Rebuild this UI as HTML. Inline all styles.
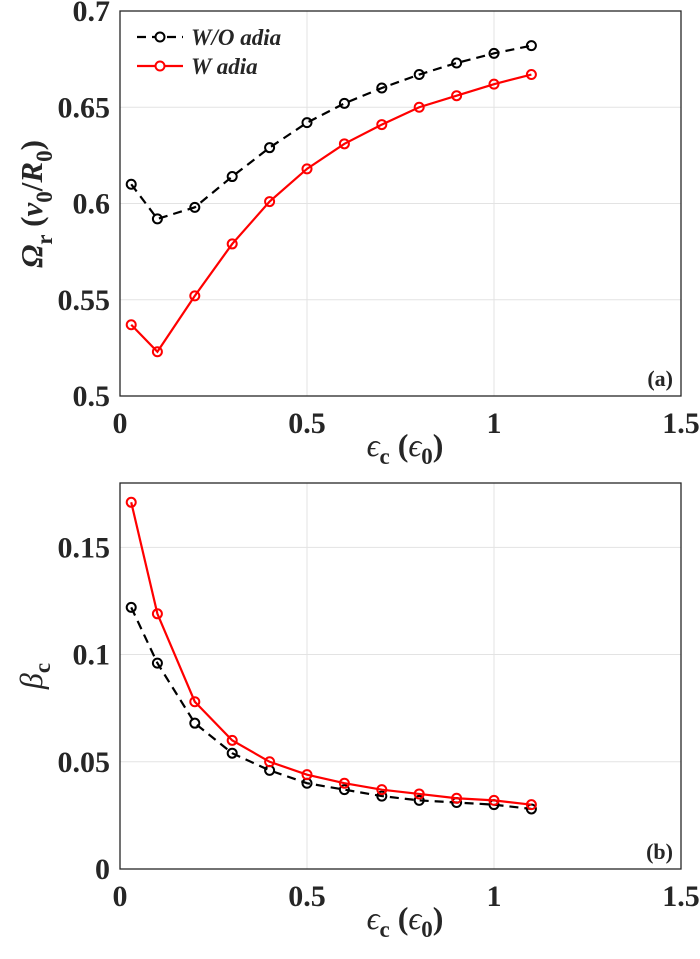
<!DOCTYPE html>
<html><head><meta charset="utf-8"><style>
body{margin:0;background:#fff;width:700px;height:954px;overflow:hidden}
svg text{font-family:"Liberation Serif",serif;font-weight:bold;fill:#262626}
</style></head><body>
<svg id="chart" width="700" height="954" viewBox="0 0 700 954" xmlns="http://www.w3.org/2000/svg"></svg>
<script>
const xVals=[0.03,0.1,0.2,0.3,0.4,0.5,0.6,0.7,0.8,0.9,1.0,1.1];
const omegaWO=[0.61,0.592,0.598,0.614,0.629,0.642,0.652,0.660,0.667,0.673,0.678,0.682];
const omegaW=[0.537,0.523,0.552,0.579,0.601,0.618,0.631,0.641,0.650,0.656,0.662,0.667];
const betaWO=[0.122,0.096,0.068,0.054,0.046,0.040,0.037,0.034,0.032,0.031,0.030,0.028];
const betaW=[0.171,0.119,0.078,0.060,0.050,0.044,0.040,0.037,0.035,0.033,0.032,0.030];
const xTicks=[0,0.5,1,1.5];
const xTickLabels=["0","0.5","1","1.5"];
const topYTicks=[0.5,0.55,0.6,0.65,0.7];
const topYTickLabels=["0.5","0.55","0.6","0.65","0.7"];
const botYTicks=[0,0.05,0.1,0.15];
const botYTickLabels=["0","0.05","0.1","0.15"];
const NS="http://www.w3.org/2000/svg";
const svg=document.getElementById('chart');
function el(tag,attrs,parent){const e=document.createElementNS(NS,tag);for(const k in attrs)e.setAttribute(k,attrs[k]);(parent||svg).appendChild(e);return e;}
function panel(name,top,bottom,yMin,yMax,yTicks,yLabels,wo,w,label){
  const L=120,R=681;
  const g=el('g',{});
  
  
  const sx=v=>L+(v-0)/(1.5)*(R-L);
  const sy=v=>bottom-(v-yMin)/(yMax-yMin)*(bottom-top);
  xTicks.forEach((t,i)=>{
    const gl=el('line',{x1:sx(t),x2:sx(t),y1:top,y2:bottom,stroke:'#e3e3e3','stroke-width':1},g);
    
    
    const tx=el('text',{x:sx(t),y:bottom+37,'text-anchor':'middle','font-size':30},g);
    
    
    tx.textContent=xTickLabels[i];
  });
  yTicks.forEach((t,i)=>{
    const gl=el('line',{x1:L,x2:R,y1:sy(t),y2:sy(t),stroke:'#e3e3e3','stroke-width':1},g);
    
    
    const tx=el('text',{x:L-10,y:sy(t)+10,'text-anchor':'end','font-size':30},g);
    
    
    tx.textContent=yLabels[i];
  });
  const box=el('rect',{x:L,y:top,width:R-L,height:bottom-top,fill:'none',stroke:'#262626','stroke-width':1.3},g);
  
  
  function series(vals,color,dash,sname){
    const pts=xVals.map((x,i)=>sx(x)+','+sy(vals[i])).join(' ');
    const pl=el('polyline',{points:pts,fill:'none',stroke:color,'stroke-width':2.2,'stroke-dasharray':dash},g);
    
    
    xVals.forEach((x,i)=>{
      const c=el('circle',{cx:sx(x),cy:sy(vals[i]),r:4.5,fill:'none',stroke:color,'stroke-width':2},g);
      
      
    });
  }
  series(wo,'#000','9 6','wo-adia');
  series(w,'#ff0000','none','w-adia');
  const lb=el('text',{x:R-8,y:bottom-10,'text-anchor':'end','font-size':22},g);
  
  
  lb.textContent=label;
  const xt=el('text',{x:405,y:bottom+60,'text-anchor':'middle','font-size':32},g);
  
  
  xt.innerHTML='<tspan font-style="italic" font-weight="normal">ϵ</tspan><tspan dy="8" font-size="23">c</tspan><tspan dy="-8"> (</tspan><tspan font-style="italic" font-weight="normal">ϵ</tspan><tspan dy="8" font-size="23">0</tspan><tspan dy="-8">)</tspan>';
  return {sx,sy,g};
}
const p1=panel('top-panel',11,396,0.5,0.7,topYTicks,topYTickLabels,omegaWO,omegaW,'(a)');
const p2=panel('bottom-panel',483,869,0,0.18,botYTicks,botYTickLabels,betaWO,betaW,'(b)');
const lg=el('g',{});


[['W/O adia','#000','9 6',37],['W adia','#ff0000','none',66]].forEach(([t,c,d,y])=>{
  const ln=el('line',{x1:137,x2:183,y1:y,y2:y,stroke:c,'stroke-width':2.2,'stroke-dasharray':d},lg);
  
  
  const ci=el('circle',{cx:160,cy:y,r:4.5,fill:'#fff',stroke:c,'stroke-width':2},lg);
  
  
  const tx=el('text',{x:191,y:y+8,'font-size':23,'font-style':'italic'},lg);
  
  
  tx.textContent=t;
});
const yt1=el('text',{transform:'translate(42,204) rotate(-90)','text-anchor':'middle','font-size':31});


yt1.innerHTML='<tspan font-style="italic">Ω</tspan><tspan dy="10" font-size="23">r</tspan><tspan dy="-10"> (</tspan><tspan font-style="italic">v</tspan><tspan dy="10" font-size="23">0</tspan><tspan dy="-10">/</tspan><tspan font-style="italic">R</tspan><tspan dy="10" font-size="23">0</tspan><tspan dy="-10">)</tspan>';
const yt2=el('text',{transform:'translate(42,676) rotate(-90)','text-anchor':'middle','font-size':32});


yt2.innerHTML='<tspan font-style="italic" font-weight="normal">β</tspan><tspan dy="8" font-size="23">c</tspan>';
</script>
</body></html>
